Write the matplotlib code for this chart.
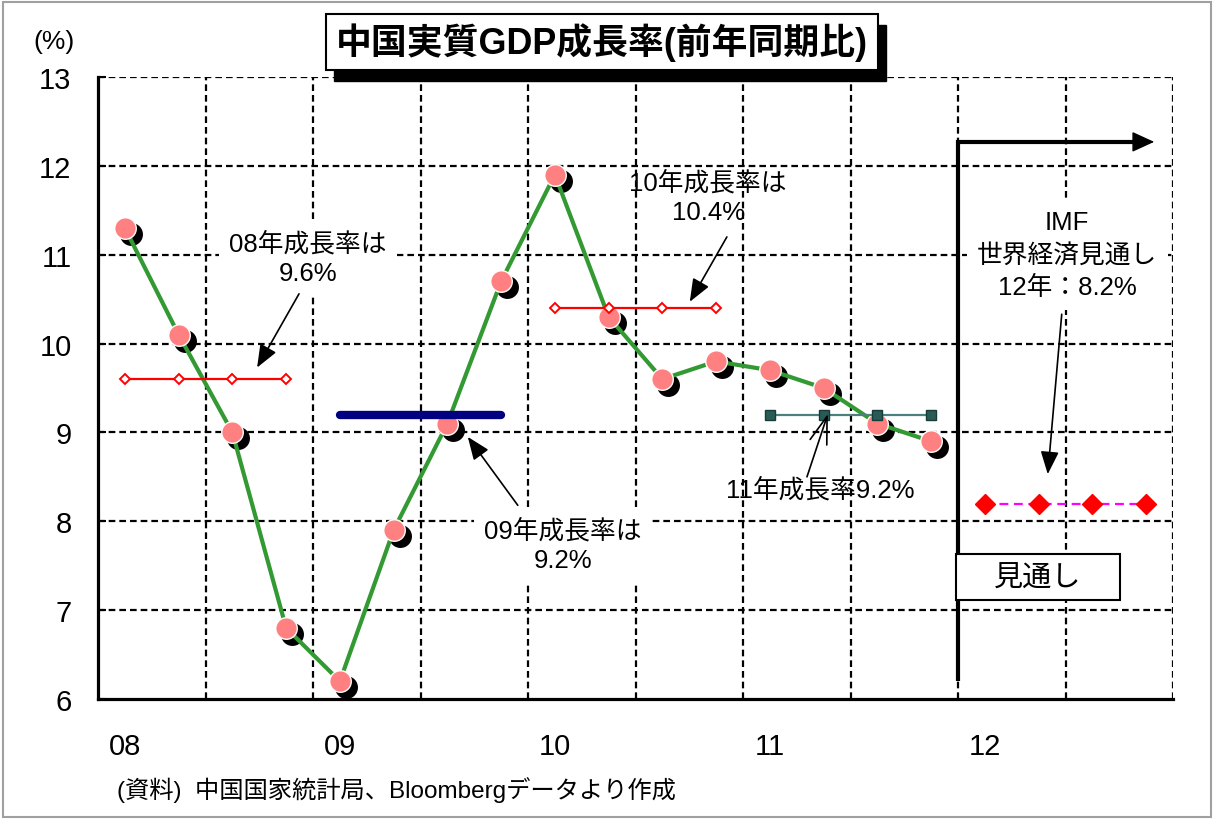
import numpy as np
import matplotlib
matplotlib.use("Agg")
import matplotlib.pyplot as plt
from matplotlib.patches import Rectangle, FancyArrowPatch
from matplotlib.transforms import offset_copy

plt.rcParams['font.family'] = ['Liberation Sans', 'Noto Sans CJK JP']

# ---- data ----
years = ['08', '09', '10', '11', '12']
quarterly_growth = [11.3, 10.1, 9.0, 6.8,    # 2008 Q1-Q4
                    6.2, 7.9, 9.1, 10.7,     # 2009
                    11.9, 10.3, 9.6, 9.8,    # 2010
                    9.7, 9.5, 9.1, 8.9]      # 2011
annual_years = ['08', '09', '10', '11']
annual_growth = [9.6, 9.2, 10.4, 9.2]
forecast_year = '12'
forecast_growth = 8.2

W, H = 1213, 820
fig = plt.figure(figsize=(W / 100, H / 100), dpi=100)
fig.patch.set_facecolor('white')

ax_left, ax_right, ax_top, ax_bottom = 98, 1173, 78, 700
ax = fig.add_axes([ax_left / W, 1 - ax_bottom / H,
                   (ax_right - ax_left) / W, (ax_bottom - ax_top) / H])
ax.set_xlim(-0.5, 19.5)
ax.set_ylim(6, 13)


def q_index(year, quarter):
    return 4 * years.index(year) + quarter


# ---- grid ----
dash = (0, (3, 1.8))
for yv in range(7, 14):
    ax.axhline(yv, color='black', lw=1.6, ls=dash, zorder=1)
for xv in np.arange(1.5, 20, 2):
    ax.axvline(xv, color='black', lw=1.6, ls=dash, zorder=1)

for s in ['top', 'right']:
    ax.spines[s].set_visible(False)
for s in ['left', 'bottom']:
    ax.spines[s].set_linewidth(2.3)
    ax.spines[s].set_zorder(2)

ax.set_yticks(range(6, 14))
ax.tick_params(axis='y', direction='in', length=6, width=1.5,
               labelsize=21, pad=19)
ax.set_xticks([q_index(y, 0) for y in years])
ax.set_xticklabels(years)
ax.tick_params(axis='x', length=0, labelsize=21, pad=24)

# ---- quarterly GDP growth ----
qx = np.arange(len(quarterly_growth))
shadow = offset_copy(ax.transData, fig=fig, x=6, y=-6, units='dots')
ax.plot(qx, quarterly_growth, ls='none', marker='o', ms=15.5,
        mfc='black', mec='black', transform=shadow, zorder=3)
ax.plot(qx, quarterly_growth, color='#339933', lw=3, zorder=4)
ax.plot(qx, quarterly_growth, ls='none', marker='o', ms=15.5,
        mfc='#FF8080', mec='white', mew=1, zorder=5)

# ---- annual averages ----
for yr, val in zip(annual_years, annual_growth):
    xs = [q_index(yr, k) for k in range(4)]
    ys = [val] * 4
    if yr == '09':
        ax.plot([xs[0], xs[-1]], [val, val], color='#000080', lw=6,
                solid_capstyle='round', zorder=6)
    elif yr == '11':
        ax.plot(xs, ys, color='#4d7f7f', lw=1.6, marker='s', ms=6.5,
                mfc='#2a5a55', mec='#163c3a', mew=1, zorder=6)
    else:
        ax.plot(xs, ys, color='red', lw=1.6, marker='D', ms=5,
                mfc='white', mec='red', mew=1.4, zorder=6)

fx = [q_index(forecast_year, k) for k in range(4)]
ax.plot(fx, [forecast_growth] * 4, color='#FF00FF', lw=1.6,
        ls=(0, (4, 2.5)), zorder=6)
ax.plot(fx, [forecast_growth] * 4, ls='none', marker='D', ms=10.5,
        mfc='red', mec='red', zorder=7)

# ---- forecast boundary ----
bx = 15.5
ax.plot([bx, bx, 18.85], [6.2, 12.27, 12.27], color='black', lw=3,
        solid_joinstyle='miter', solid_capstyle='butt', zorder=8)
ax.add_patch(FancyArrowPatch((18.7, 12.27), (19.15, 12.27),
                             arrowstyle='-|>,head_length=0.7,head_width=0.32',
                             mutation_scale=20, color='black', lw=1,
                             shrinkA=0, shrinkB=0, zorder=8))
ax.add_patch(Rectangle((15.46, 7.11), 3.05, 0.52, fc='white', ec='black',
                       lw=1.5, zorder=9))
ax.text(16.98, 7.37, '見通し', ha='center', va='center', fontsize=21,
        zorder=10)

# ---- annotations ----
afont = 18.5
arrow_kw = dict(arrowstyle='-|>,head_length=1.0,head_width=0.4',
                mutation_scale=14, color='black', lw=1.2,
                shrinkA=0, shrinkB=0)
white_box = dict(boxstyle='square,pad=0.4', fc='white', ec='none')

ax.text(3.41, 10.96, '08年成長率は\n9.6%', ha='center', va='center',
        fontsize=afont, linespacing=1.3, bbox=white_box, zorder=6.5)
ax.annotate('', xy=(2.46, 9.73), xytext=(3.24, 10.56),
            arrowprops=arrow_kw, zorder=7)

ax.text(8.15, 7.73, '09年成長率は\n9.2%', ha='center', va='center',
        fontsize=afont, linespacing=1.3, bbox=white_box, zorder=6.5)
ax.annotate('', xy=(6.38, 8.95), xytext=(7.31, 8.18),
            arrowprops=arrow_kw, zorder=7)

ax.text(10.85, 11.65, '10年成長率は\n10.4%', ha='center', va='center',
        fontsize=afont, linespacing=1.3, zorder=6.5)
ax.annotate('', xy=(10.51, 10.47), xytext=(11.2, 11.2),
            arrowprops=arrow_kw, zorder=7)

ax.text(12.93, 8.36, '11年成長率9.2%', ha='center', va='center',
        fontsize=afont, zorder=6.5)
ax.annotate('', xy=(13.08, 9.21), xytext=(12.69, 8.5),
            arrowprops=dict(arrowstyle='->,head_length=1.4,head_width=0.45',
                            mutation_scale=14, color='black', lw=1.2,
                            shrinkA=0, shrinkB=0), zorder=7)

ax.text(17.53, 11.0, 'IMF\n世界経済見通し\n12年：8.2%', ha='center',
        va='center', fontsize=afont, linespacing=1.45,
        bbox=dict(boxstyle='square,pad=0.4', fc='white', ec='none'),
        zorder=6.5)
ax.annotate('', xy=(17.17, 8.53), xytext=(17.43, 10.33),
            arrowprops=arrow_kw, zorder=7)

# ---- title box ----
tx0, ty0, tx1, ty1 = 326, 15, 878, 71
fig.patches.append(Rectangle(((tx0 + 8) / W, 1 - (ty1 + 11) / H),
                             (tx1 - tx0) / W, (ty1 - ty0) / H,
                             transform=fig.transFigure, fc='black',
                             ec='black', zorder=5))
fig.patches.append(Rectangle((tx0 / W, 1 - ty1 / H),
                             (tx1 - tx0) / W, (ty1 - ty0) / H,
                             transform=fig.transFigure, fc='white',
                             ec='black', lw=1.5, zorder=6))
fig.text((tx0 + tx1) / 2 / W, 1 - (ty0 + ty1) / 2 / H,
         '中国実質GDP成長率(前年同期比)', ha='center', va='center',
         fontsize=25.8, fontweight='bold', zorder=7)

fig.text(54 / W, 1 - 42 / H, '(%)', ha='center', va='center', fontsize=19)
fig.text(117 / W, 1 - 790 / H, '(資料)  中国国家統計局、Bloombergデータより作成',
         ha='left', va='center', fontsize=17.5)

# outer frame
fig.patches.append(Rectangle((3 / W, 2 / H), 1208 / W, 815 / H,
                             transform=fig.transFigure, fill=False,
                             ec='#a0a0a0', lw=1.5, zorder=10))

fig.savefig('out.png', dpi=100)
